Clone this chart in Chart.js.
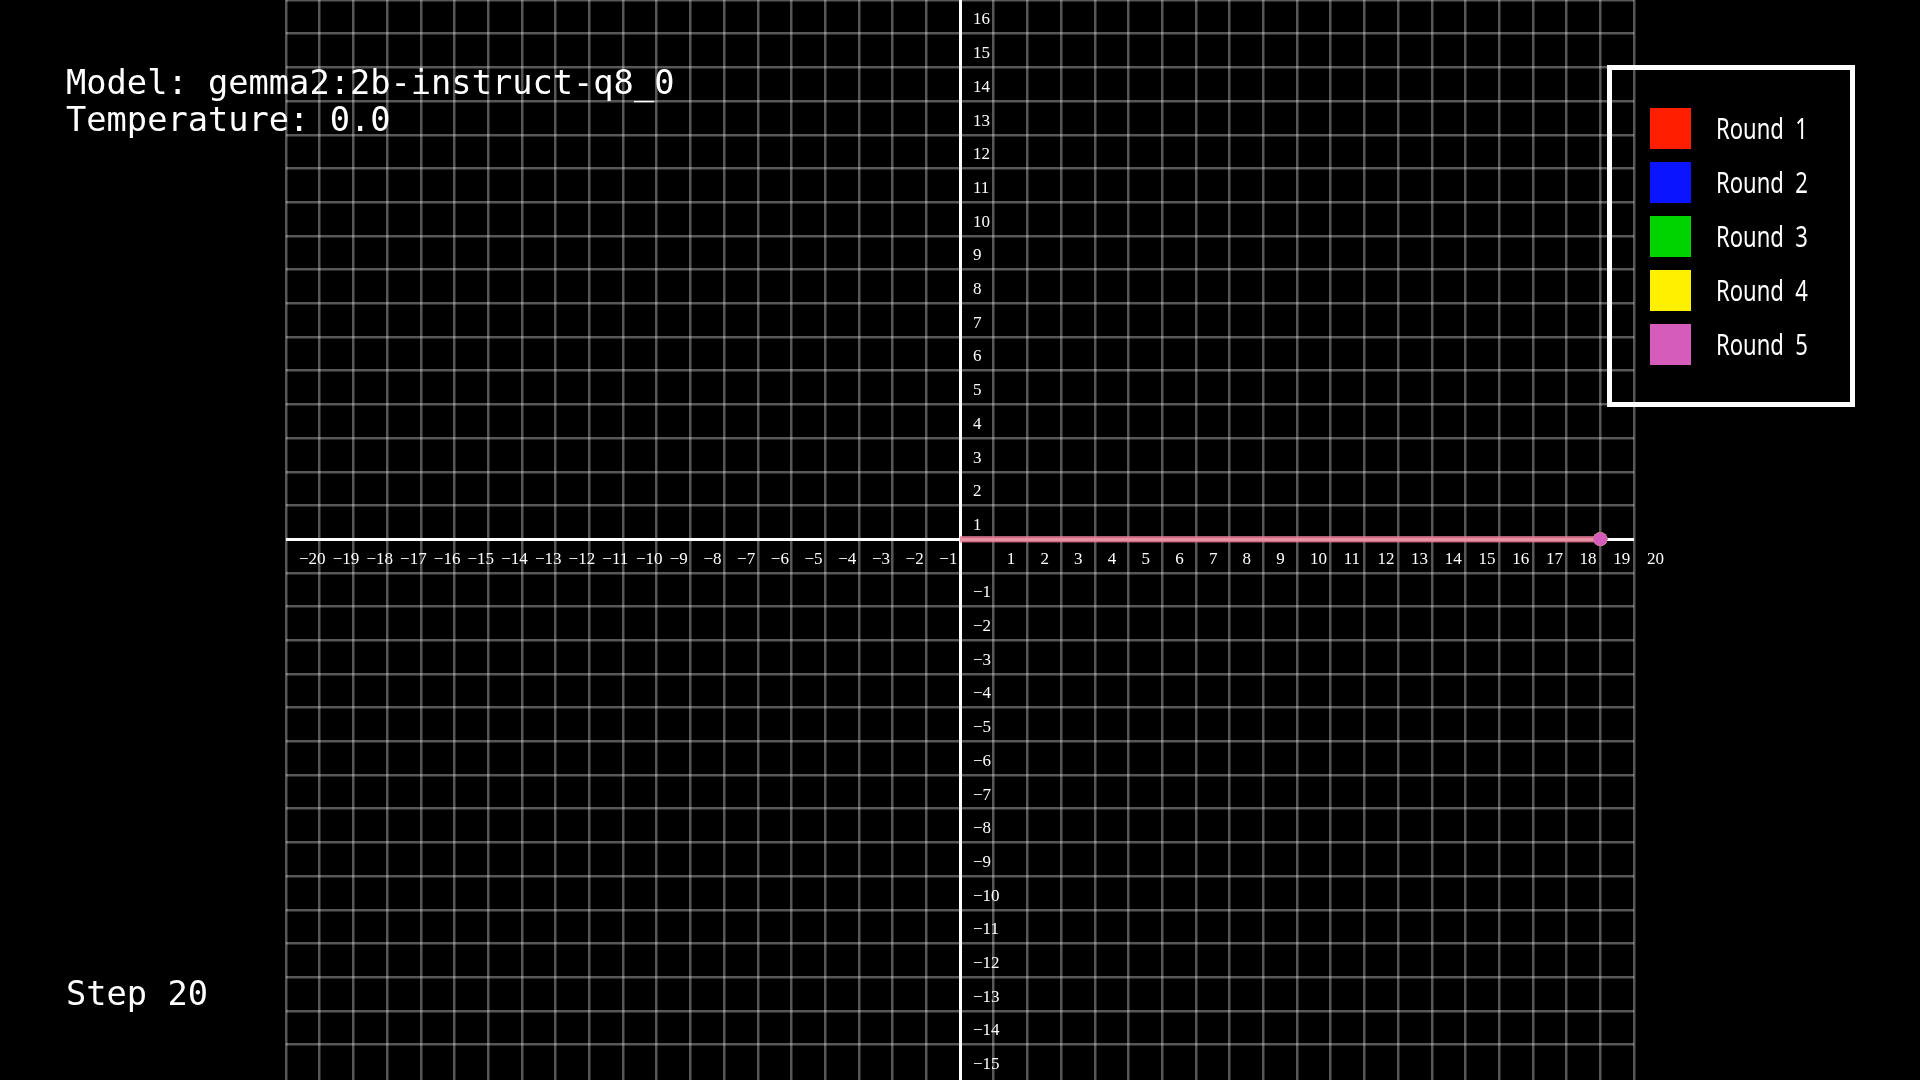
<!DOCTYPE html>
<html>
<head>
<meta charset="utf-8">
<script src="https://cdn.jsdelivr.net/npm/chart.js@4.4.1/dist/chart.umd.min.js"></script>
<style>
  html, body { margin: 0; padding: 0; background: #000; }
  #wrap { position: relative; width: 1920px; height: 1080px; overflow: hidden; }
  #chart { position: absolute; left: 0; top: 0; }
  .mono { position: absolute; color: #fff; font-family: "DejaVu Sans Mono", monospace; font-size: 33.7px; line-height: 37px; white-space: pre; }
  #legend { position: absolute; left: 1607px; top: 65px; width: 238px; height: 332px; border: 5px solid #fff; }
  .row { position: absolute; left: 38px; height: 41px; }
  .sw { position: absolute; left: 0; top: 0; width: 41px; height: 41px; }
  .lbl { position: absolute; left: 66px; top: -1px; color: #fff; font-family: "Noto Sans", sans-serif; font-size: 29px; line-height: 41px; white-space: pre; transform: scaleX(0.76); transform-origin: left center; }
</style>
</head>
<body>
<div id="wrap">
  <canvas id="chart" width="1920" height="1080"></canvas>
  <div class="mono" id="title" style="left:66px; top:64px;"></div>
  <div class="mono" id="step" style="left:66px; top:975px;"></div>
  <div id="legend"></div>
</div>
<script>
const MODEL_NAME = 'gemma2:2b-instruct-q8_0';
const TEMPERATURE = '0.0';
const STEP = 20;

const ROUND_NAMES = ['Round 1', 'Round 2', 'Round 3', 'Round 4', 'Round 5'];
const ROUND_COLORS = ['#ff1e00', '#0a14ff', '#00d400', '#fff000', '#d65cbc'];

// temperature 0 -> every round walks the same path
const PATH_X = [0, 1, 2, 3, 4, 5, 6, 7, 8, 9, 10, 11, 12, 13, 14, 15, 16, 17, 18, 19];
const PATH_Y = [0, 0, 0, 0, 0, 0, 0, 0, 0, 0, 0, 0, 0, 0, 0, 0, 0, 0, 0, 0];

const X_TICKS = [-20, -19, -18, -17, -16, -15, -14, -13, -12, -11, -10, -9, -8, -7, -6, -5, -4, -3, -2, -1,
                 1, 2, 3, 4, 5, 6, 7, 8, 9, 10, 11, 12, 13, 14, 15, 16, 17, 18, 19, 20];
const Y_TICKS = [-16, -15, -14, -13, -12, -11, -10, -9, -8, -7, -6, -5, -4, -3, -2, -1,
                 1, 2, 3, 4, 5, 6, 7, 8, 9, 10, 11, 12, 13, 14, 15, 16];

const LINE_TONE = 'rgba(232, 126, 152, 0.34)';

// --- text overlays ---
document.getElementById('title').textContent = `Model: ${MODEL_NAME}\nTemperature: ${TEMPERATURE}`;
document.getElementById('step').textContent = `Step ${STEP}`;

const legend = document.getElementById('legend');
ROUND_NAMES.forEach((name, i) => {
  const row = document.createElement('div');
  row.className = 'row';
  row.style.top = (38 + i * 54) + 'px';
  const sw = document.createElement('div');
  sw.className = 'sw';
  sw.style.background = ROUND_COLORS[i];
  const lbl = document.createElement('div');
  lbl.className = 'lbl';
  lbl.textContent = name.replace(' ', '  ');
  row.appendChild(sw);
  row.appendChild(lbl);
  legend.appendChild(row);
});

// --- tick labels, placed down-right of each tick like the original plane ---
const fmt = (v) => (v < 0 ? '\u2212' + Math.abs(v) : String(v));

const planeLabels = {
  id: 'planeLabels',
  beforeDatasetsDraw(chart) {
    const { ctx, scales } = chart;
    const x0 = scales.x.getPixelForValue(0);
    const y0 = scales.y.getPixelForValue(0);
    ctx.save();
    ctx.fillStyle = '#fff';
    ctx.font = '17px "Liberation Serif", serif';
    ctx.textAlign = 'left';
    ctx.textBaseline = 'middle';
    X_TICKS.forEach(v => ctx.fillText(fmt(v), scales.x.getPixelForValue(v) + 13, y0 + 20));
    Y_TICKS.forEach(v => ctx.fillText(fmt(v), x0 + 13, scales.y.getPixelForValue(v) + 20));
    ctx.restore();
  }
};

const pathPoints = PATH_X.map((x, i) => ({ x, y: PATH_Y[i] }));
const lastIdx = pathPoints.length - 1;

const datasets = ROUND_NAMES.map((name, i) => ({
  label: name,
  data: pathPoints,
  borderColor: LINE_TONE,
  borderWidth: 6,
  borderCapStyle: 'butt',
  tension: 0,
  pointRadius: pathPoints.map((p, j) => (j === lastIdx ? 7 : 0)),
  pointBackgroundColor: ROUND_COLORS[i],
  pointBorderWidth: 0,
  order: ROUND_NAMES.length - i,
}));

const gridColor = (c) => (c.tick && c.tick.value === 0 ? '#ffffff' : 'rgba(255,255,255,0.34)');
const gridWidth = (c) => (c.tick && c.tick.value === 0 ? 3 : 2.5);
const intOnly = (scale) => { scale.ticks = scale.ticks.filter(t => Number.isInteger(t.value)); };

new Chart(document.getElementById('chart').getContext('2d'), {
  type: 'line',
  data: { datasets },
  plugins: [planeLabels],
  options: {
    responsive: false,
    animation: false,
    devicePixelRatio: 1,
    layout: { autoPadding: false, padding: { left: 286, right: 286, top: 0, bottom: 0 } },
    plugins: { legend: { display: false }, tooltip: { enabled: false } },
    scales: {
      x: {
        type: 'linear',
        min: -20,
        max: 20,
        afterBuildTicks: intOnly,
        ticks: { stepSize: 1, display: false },
        grid: { color: gridColor, lineWidth: gridWidth, drawTicks: false },
        border: { display: false },
      },
      y: {
        type: 'linear',
        min: -16.05,
        max: 16,
        afterBuildTicks: intOnly,
        ticks: { stepSize: 1, display: false },
        grid: { color: gridColor, lineWidth: gridWidth, drawTicks: false },
        border: { display: false },
      }
    }
  }
});
</script>
</body>
</html>
